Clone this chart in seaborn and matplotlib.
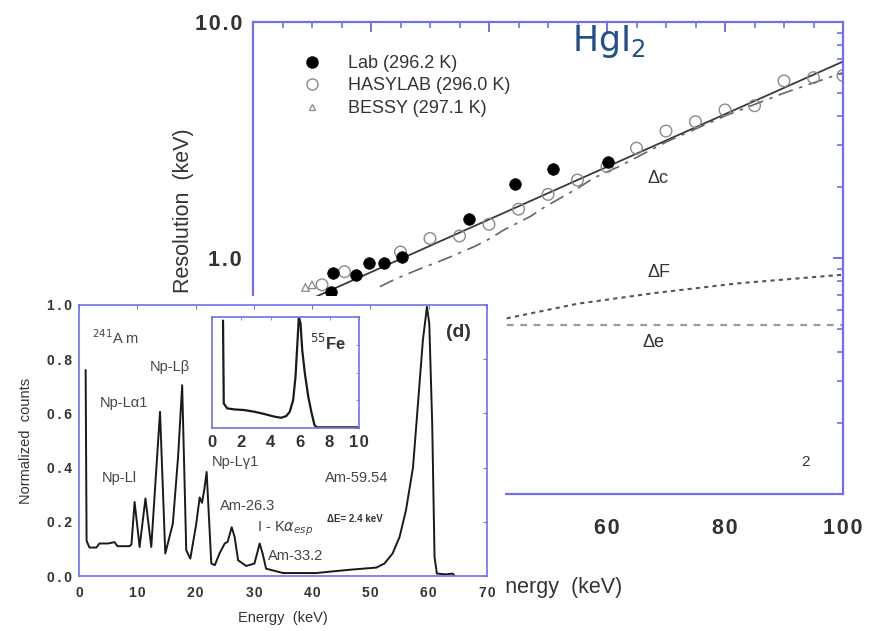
import numpy as np
import pandas as pd
import matplotlib
matplotlib.use("Agg")
import matplotlib.pyplot as plt
import seaborn as sns
from matplotlib.patches import Rectangle
from matplotlib.lines import Line2D
from matplotlib.ticker import MultipleLocator, LogLocator, FixedLocator, NullFormatter, FuncFormatter

# ---------------- data: resolution vs energy ----------------
lab_x = [13.3, 13.6, 17.4, 19.7, 22.2, 25.2, 36.6, 44.4, 50.8, 60.1]
lab_y = [0.72, 0.86, 0.85, 0.955, 0.95, 1.005, 1.46, 2.06, 2.39, 2.55]

hasy_x = [11.7, 15.5, 25, 30, 35, 40, 45, 50, 55, 60, 65, 70, 75, 80, 85, 90, 95, 100]
hasy_y = [0.77, 0.875, 1.06, 1.21, 1.24, 1.39, 1.61, 1.86, 2.14, 2.44, 2.92,
          3.45, 3.78, 4.24, 4.42, 5.63, 5.81, 5.93]

bessy_x = [8.9, 10.0]
bessy_y = [0.75, 0.77]

fit_x = [8, 100]
fit_y = [0.64, 6.8]

dc_x = [21.5, 24.4, 28.3, 30.8, 33.4, 37.6, 40.2, 42.4, 47.0, 49.2, 51.5, 55.4, 57.7, 62.0, 70, 80, 90, 100]
dc_y = [0.756, 0.82, 0.90, 0.95, 1.01, 1.12, 1.21, 1.31, 1.50, 1.63, 1.76, 2.0, 2.18, 2.44, 3.1, 4.0, 5.0, 6.1]

dF_x = [43, 55, 68, 82, 100]
dF_y = [0.555, 0.64, 0.71, 0.78, 0.85]

de_x = [43, 100]
de_y = [0.52, 0.52]

legend_labels = ["Lab (296.2 K)", "HASYLAB (296.0 K)", "BESSY (297.1 K)"]

# ---------------- data: 241Am spectrum ----------------
am_x = [1.14, 1.3, 1.8, 3.0, 3.5, 5.0, 6.1, 6.6, 7.0, 8.7, 9.0, 9.54, 10.4, 11.4, 12.4,
        13.9, 14.8, 16.1, 17.0, 17.7, 18.4, 19.1, 20.1, 20.7, 21.1, 21.5, 21.9, 22.7,
        23.3, 24.1, 25.0, 25.5, 26.2, 26.7, 27.3, 28.7, 30.1, 31.0, 31.5, 32.1, 35.0,
        40.7, 46.4, 51.0, 52.4, 53.8, 55.0, 56.1, 57.3, 58.1, 59.0, 59.7, 60.1, 60.6,
        61.0, 61.4, 63.0, 64.1, 64.4]
am_y = [0.76, 0.13, 0.105, 0.105, 0.12, 0.12, 0.125, 0.11, 0.11, 0.11, 0.117, 0.273,
        0.107, 0.286, 0.107, 0.606, 0.083, 0.193, 0.44, 0.704, 0.095, 0.064, 0.19, 0.29,
        0.27, 0.32, 0.384, 0.046, 0.04, 0.083, 0.12, 0.126, 0.18, 0.144, 0.058, 0.037,
        0.046, 0.12, 0.083, 0.027, 0.011, 0.011, 0.023, 0.031, 0.046, 0.083, 0.144,
        0.243, 0.40, 0.62, 0.87, 0.994, 0.93, 0.56, 0.07, 0.009, 0.006, 0.009, 0.002]

# ---------------- data: 55Fe spectrum ----------------
fe_x = [0.75, 0.8, 1.03, 1.5, 2.18, 2.87, 3.56, 4.25, 4.71, 5.06, 5.29, 5.52, 5.68, 5.82,
        5.9, 6.02, 6.14, 6.32, 6.55, 6.78, 6.97, 7.13, 10.0]
fe_y = [0.97, 0.22, 0.175, 0.166, 0.16, 0.145, 0.124, 0.10, 0.09, 0.106, 0.145, 0.25,
        0.46, 0.79, 0.99, 0.95, 0.70, 0.49, 0.28, 0.13, 0.024, 0.003, 0.003]

am_labels = [r"$^{241}$A m", "Np-L\u03b2", "Np-L\u03b11", "Np-L\u03b31", "Np-Ll",
             "Am-26.3", r"I - K$\alpha_{esp}$", "Am-33.2", "Am-59.54"]
am_label_x = [2.2, 12.2, 3.6, 22.8, 3.9, 24.2, 30.5, 32.4, 42.2]
am_label_y = [0.88, 0.77, 0.64, 0.42, 0.36, 0.26, 0.175, 0.075, 0.36]

# ---------------- style ----------------
sns.set_style("white")
plt.rcParams['font.family'] = ['Liberation Sans', 'DejaVu Sans']
BLUE = '#7070ee'
TXT = '#2a2a2a'


def spaced(s, sp='\u2009'):
    return sp.join(s)


W, H = 869, 631
fig = plt.figure(figsize=(W / 100, H / 100), dpi=100)

# ================= main axes =================
ax = fig.add_axes([253 / W, 1 - 494 / H, 590 / W, 472 / H])
ax.set_yscale('log')
ax.set_xlim(0, 100)
ax.set_ylim(0.1, 10)

sns.lineplot(x=fit_x, y=fit_y, ax=ax, color='#3a3a3a', lw=1.3, sort=False, estimator=None)
sns.lineplot(x=dc_x, y=dc_y, ax=ax, color='#666666', lw=1.2, sort=False, estimator=None,
             linestyle=(0, (9, 4, 2, 4)))
sns.lineplot(x=dF_x, y=dF_y, ax=ax, color='#555555', lw=1.5, sort=False, estimator=None,
             linestyle=(0, (2, 2)))
sns.lineplot(x=de_x, y=de_y, ax=ax, color='#9a9a9a', lw=1.6, sort=False, estimator=None,
             linestyle=(0, (3, 3)))

sns.scatterplot(x=hasy_x, y=hasy_y, ax=ax, marker='o', s=70, facecolors='none',
                edgecolor='#8a8a8a', linewidth=1.0, zorder=4)
sns.scatterplot(x=bessy_x, y=bessy_y, ax=ax, marker='^', s=30, facecolors='none',
                edgecolor='#8a8a8a', linewidth=0.9, zorder=4)
sns.scatterplot(x=lab_x, y=lab_y, ax=ax, marker='o', s=70, color='black',
                edgecolor='black', linewidth=0.5, zorder=5)

for sp in ax.spines.values():
    sp.set_color(BLUE)
    sp.set_linewidth(1.6)
ax.xaxis.set_major_locator(MultipleLocator(20))
ax.xaxis.set_minor_locator(MultipleLocator(5))
ax.yaxis.set_major_locator(FixedLocator([0.1, 1, 10]))
ax.yaxis.set_minor_locator(LogLocator(base=10, subs=np.arange(2, 10)))
ax.yaxis.set_minor_formatter(NullFormatter())
ax.yaxis.set_major_formatter(FuncFormatter(lambda v, p: spaced(f"{v:.1f}", '\u200a')))
ax.xaxis.set_major_formatter(FuncFormatter(lambda v, p: spaced(f"{int(v)}", '\u200a')))
ax.tick_params(which='both', direction='in', top=True, right=True, color=BLUE,
               labelcolor='#333333')
ax.tick_params(which='major', length=7, width=1.4, labelsize=15.5)
ax.tick_params(which='minor', length=4, width=1.2)
ax.tick_params(axis='x', which='major', pad=17)
ax.tick_params(axis='y', which='major', pad=8)
for lab in ax.get_xticklabels() + ax.get_yticklabels():
    lab.set_fontweight('bold')
ax.set_xlabel("Energy  (keV)", fontsize=15.5, color='#333333', labelpad=28)
ax.xaxis.label.set_x((557 - 253) / 590)
ax.grid(False)

leg_handles = [
    Line2D([], [], marker='o', ls='', color='black', markersize=8),
    Line2D([], [], marker='o', ls='', markerfacecolor='none', markeredgecolor='#8a8a8a',
           markersize=8, markeredgewidth=1.0),
    Line2D([], [], marker='^', ls='', markerfacecolor='none', markeredgecolor='#8a8a8a',
           markersize=5, markeredgewidth=0.9),
]
leg = ax.legend(leg_handles, legend_labels, loc='upper left',
                bbox_to_anchor=(0.085, 0.93), frameon=False, fontsize=13,
                handlelength=1.0, handletextpad=1.5, labelspacing=0.3,
                borderpad=0, borderaxespad=0)
for t in leg.get_texts():
    t.set_color('#333333')

ax.text(54.0, 7.55, r"Hg$\mathrm{I}_2$", fontsize=25, color='#24508a',
        family='DejaVu Sans', ha='left', va='baseline')
ax.text(66.8, 2.18, "\u0394c", fontsize=13, color='#333333', ha='left', va='center')
ax.text(66.8, 0.872, "\u0394F", fontsize=13, color='#333333', ha='left', va='center')
ax.text(66.1, 0.44, "\u0394e", fontsize=13, color='#333333', ha='left', va='center')
ax.text(93.7, 0.137, "2", fontsize=11, color='#333333', ha='center', va='center')

fig.text(183 / W, 1 - 128 / H, "Resolution  (keV)", rotation=90, fontsize=15.5,
         color='#333333', ha='center', va='top', zorder=0.5)

# white cover behind the spectrum panel
fig.add_artist(Rectangle((0, 0), 505 / W, 1 - 296 / H, transform=fig.transFigure,
                         facecolor='white', edgecolor='none', zorder=1))

# ================= 241Am spectrum panel =================
ax2 = fig.add_axes([79 / W, 1 - 576 / H, 408 / W, 271 / H], zorder=2)
ax2.set_facecolor('white')
sns.lineplot(x=am_x, y=am_y, ax=ax2, color='#1a1a1a', lw=1.4, sort=False, estimator=None)
ax2.set_xlim(0, 70)
ax2.set_ylim(0, 1.0)
for sp in ax2.spines.values():
    sp.set_color(BLUE)
    sp.set_linewidth(1.2)
ax2.xaxis.set_major_locator(MultipleLocator(10))
ax2.yaxis.set_major_locator(MultipleLocator(0.2))
ax2.yaxis.set_major_formatter(FuncFormatter(lambda v, p: spaced(f"{v:.1f}")))
ax2.xaxis.set_major_formatter(FuncFormatter(lambda v, p: spaced(f"{int(v)}", '\u200a')))
ax2.tick_params(which='major', direction='in', top=True, right=True, color=BLUE,
                length=3, width=0.8, labelsize=10, labelcolor='#333333')
ax2.tick_params(axis='x', pad=7)
ax2.tick_params(axis='y', pad=5)
for lab in ax2.get_xticklabels() + ax2.get_yticklabels():
    lab.set_fontweight('bold')
ax2.set_xlabel("Energy  (keV)", fontsize=10.5, color='#333333', labelpad=8)
ax2.set_ylabel("Normalized  counts", fontsize=10.5, color='#333333', labelpad=10)
ax2.grid(False)

for t, x, y in zip(am_labels, am_label_x, am_label_y):
    ax2.text(x, y, t, fontsize=10.5, color='#444444', ha='left', va='center')
ax2.text(42.5, 0.21, "\u0394E= 2.4 keV", fontsize=7, color='#333333', ha='left',
         va='center', fontweight='bold')
ax2.text(63.0, 0.9, "(d)", fontsize=14, color='#333333', ha='left', va='center',
         fontweight='bold')

# ================= 55Fe inner inset =================
ax3 = fig.add_axes([212 / W, 1 - 427.7 / H, 147 / W, 110.4 / H], zorder=3)
ax3.set_facecolor('white')
sns.lineplot(x=fe_x, y=fe_y, ax=ax3, color='#1a1a1a', lw=1.6, sort=False, estimator=None)
ax3.set_xlim(0, 10)
ax3.set_ylim(0, 1.0)
for sp in ax3.spines.values():
    sp.set_color(BLUE)
    sp.set_linewidth(1.2)
ax3.xaxis.set_major_locator(MultipleLocator(2))
ax3.xaxis.set_major_formatter(FuncFormatter(lambda v, p: spaced(f"{int(v)}", '\u200a')))
ax3.yaxis.set_major_locator(MultipleLocator(0.25))
ax3.yaxis.set_major_formatter(NullFormatter())
ax3.tick_params(which='major', direction='in', top=True, right=True, color=BLUE,
                length=2, width=0.6, labelsize=12, labelcolor='#333333', pad=5)
for lab in ax3.get_xticklabels():
    lab.set_fontweight('bold')
ax3.text(6.7, 0.77, r"$^{55}$Fe", fontsize=12, color='#333333', ha='left', va='center',
         fontweight='bold')
ax3.grid(False)

fig.savefig("out.png", dpi=100)
